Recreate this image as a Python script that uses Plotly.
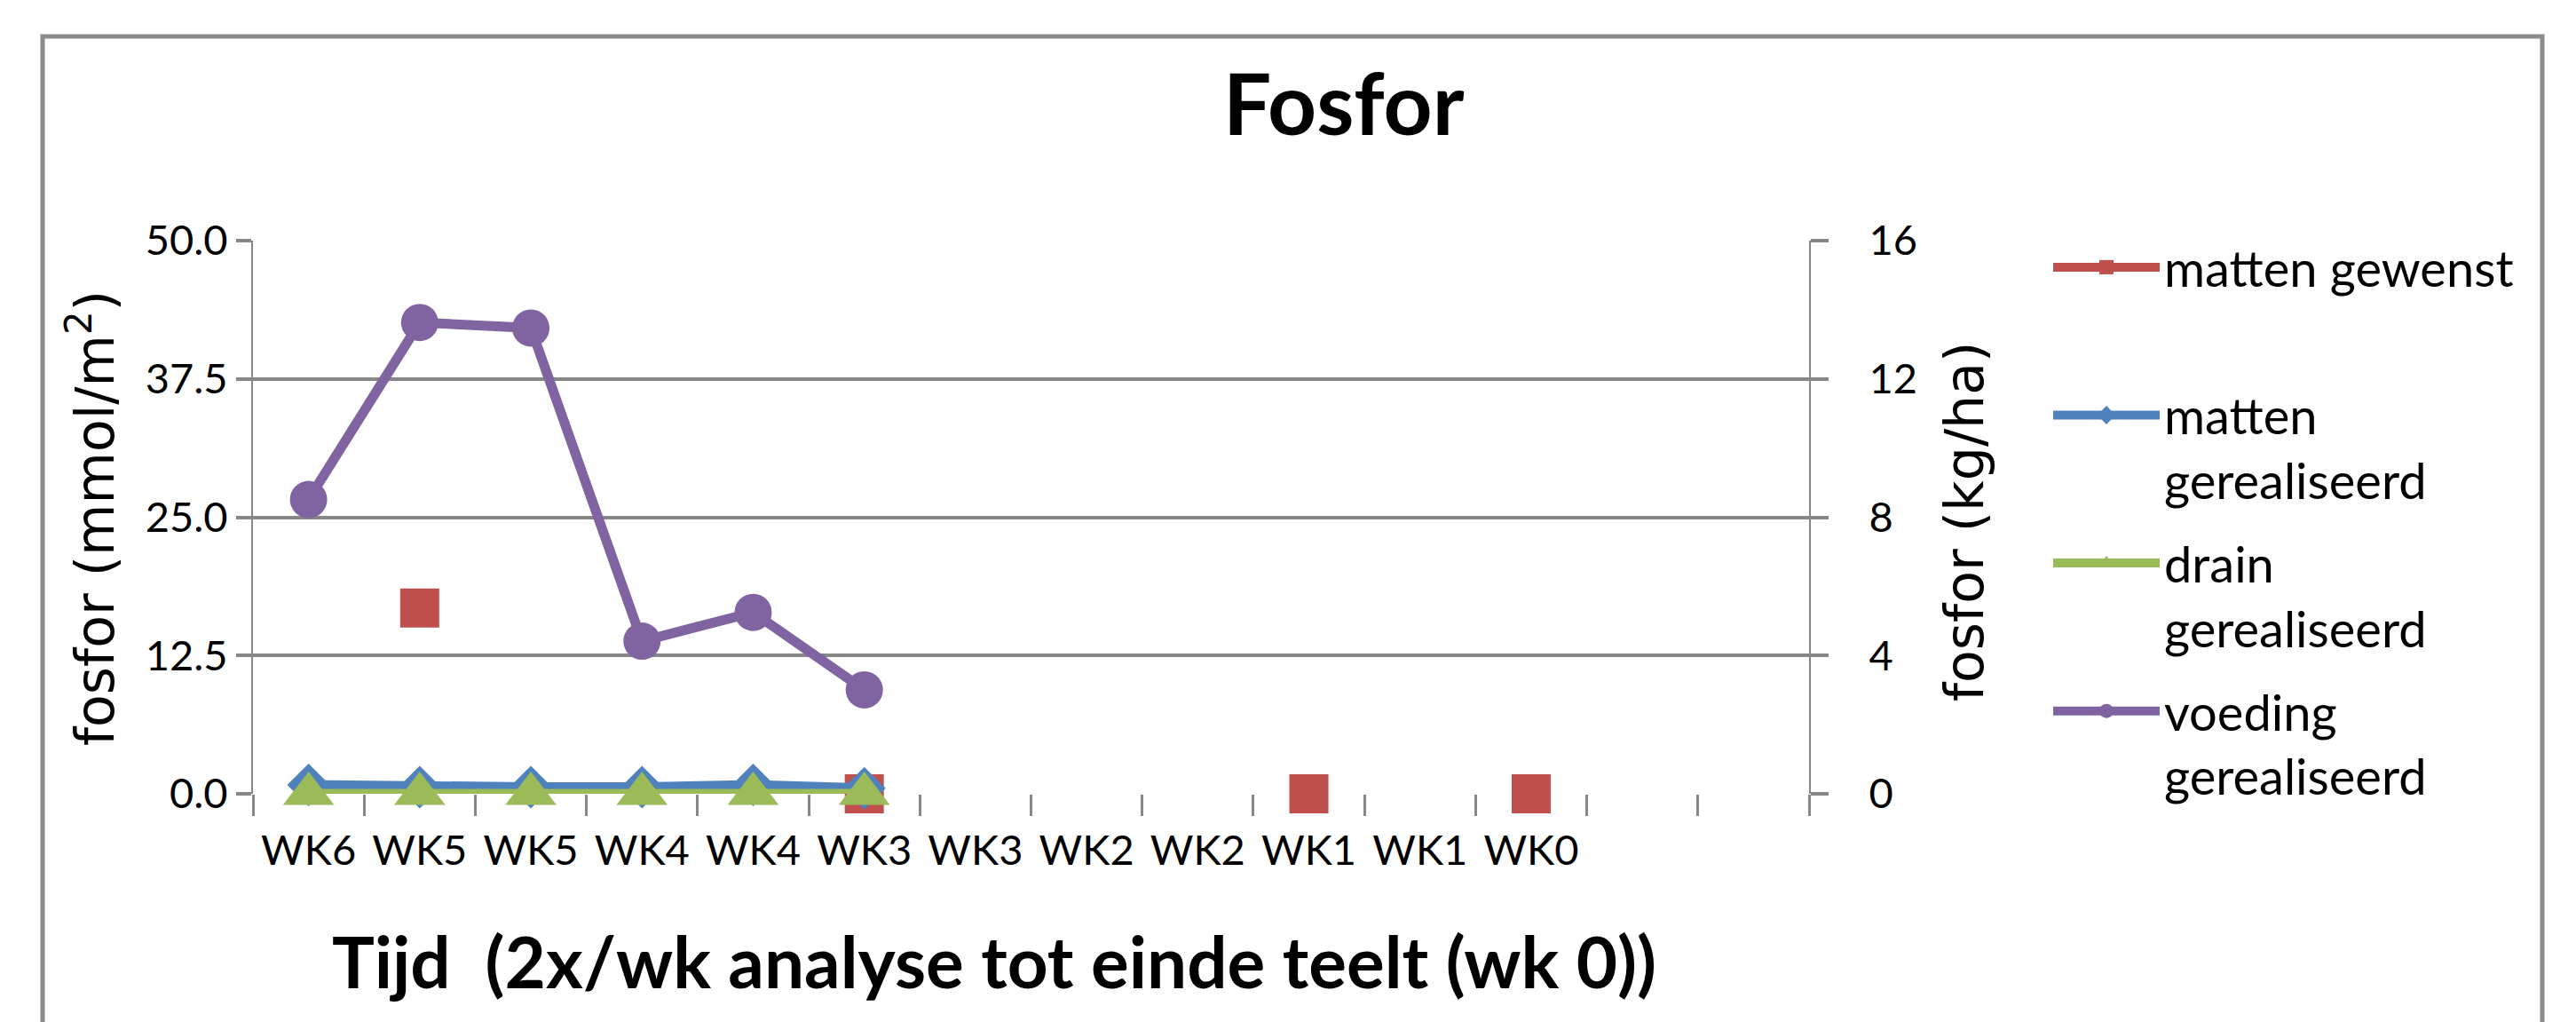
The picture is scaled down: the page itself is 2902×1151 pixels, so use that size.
import plotly.graph_objects as go

categories = ["WK6", "WK5", "WK5", "WK4", "WK4", "WK3", "WK3", "WK2", "WK2", "WK1", "WK1", "WK0", "", ""]
matten_gewenst = [None, 16.8, None, None, None, 0.0, None, None, None, 0.0, None, 0.0, None, None]
matten_gerealiseerd = [0.8, 0.6, 0.6, 0.6, 0.8, 0.5, None, None, None, None, None, None, None, None]
drain_gerealiseerd = [0.0, 0.0, 0.0, 0.0, 0.0, 0.0, None, None, None, None, None, None, None, None]
voeding_gerealiseerd = [26.6, 42.6, 42.1, 13.8, 16.4, 9.4, None, None, None, None, None, None, None, None]
left_ticks = [0.0, 12.5, 25.0, 37.5, 50.0]
right_ticks = [0, 4, 8, 12, 16]

x = list(range(len(categories)))
boundaries = [i - 0.5 for i in range(len(categories) + 1)]

RED, BLUE, GREEN, PURPLE = "#C0504D", "#4F81BD", "#9BBB59", "#8064A2"
GRID = "#878787"
FONT = "Lato"

W, H = 2902, 1151
ML, MR, MT, MB = 277, W - 2030, 263, H - 886
PW, PH = W - ML - MR, H - MT - MB


def px_x(p):
    return (p - ML) / PW


def px_y(p):
    return (H - MB - p) / PH


fig = go.Figure()
series = [
    ("matten gewenst<br>\u00a0", matten_gewenst, RED, "square", 44),
    ("matten<br>gerealiseerd", matten_gerealiseerd, BLUE, "diamond", 37),
    ("drain<br>gerealiseerd", drain_gerealiseerd, GREEN, "triangle-up", 50),
    ("voeding<br>gerealiseerd", voeding_gerealiseerd, PURPLE, "circle", 42),
]
for i, (name, vals, col, sym, size) in enumerate(series):
    fig.add_trace(go.Scatter(
        x=x, y=vals, name=name, mode="lines+markers", legendgroup=f"g{i}",
        line=dict(color=col, width=11), connectgaps=False, cliponaxis=False,
        marker=dict(symbol=sym, size=size, color=col, line=dict(width=0)),
    ))
fig.add_trace(go.Scatter(x=[x[0]], y=[None], yaxis="y2", showlegend=False, hoverinfo="skip"))

fig.update_layout(
    width=W, height=H, autosize=False,
    margin=dict(l=ML, r=MR, t=MT, b=MB, pad=0),
    paper_bgcolor="white", plot_bgcolor="white",
    font=dict(family=FONT, color="black"),
    showlegend=True,
    legend=dict(
        x=px_x(2300), y=px_y(250), xanchor="left", yanchor="top",
        font=dict(family=FONT, size=56, color="black"),
        valign="top", itemwidth=120, tracegroupgap=18, maxheight=1100,
        bgcolor="rgba(0,0,0,0)", borderwidth=0,
    ),
    xaxis=dict(
        range=[-0.5, len(categories) - 0.5], tickmode="array", tickvals=x, ticktext=categories,
        ticks="", showgrid=False, zeroline=False, showline=False,
        tickfont=dict(family=FONT, size=47, color="black"),
        ticklabelstandoff=32,
        minor=dict(tickmode="array", tickvals=boundaries, ticks="outside", ticklen=24,
                   tickcolor=GRID, tickwidth=2.5, showgrid=False),
    ),
    yaxis=dict(
        range=[0, 50], tickmode="array", tickvals=left_ticks, tickformat=".1f",
        showgrid=True, gridcolor=GRID, gridwidth=3.5, zeroline=False,
        showline=True, linecolor=GRID, linewidth=2,
        ticks="outside", ticklen=17, tickwidth=3.5, tickcolor=GRID,
        tickfont=dict(family=FONT, size=47, color="black"),
    ),
    yaxis2=dict(
        range=[0, 16], tickmode="array", tickvals=right_ticks, overlaying="y", side="right",
        showgrid=False, zeroline=False, showline=True, linecolor=GRID, linewidth=2,
        ticks="outside", ticklen=20, tickwidth=3.5, tickcolor=GRID,
        tickfont=dict(family=FONT, size=47, color="black"),
        ticklabelstandoff=36,
    ),
    shapes=[dict(type="rect", xref="paper", yref="paper",
                 x0=px_x(40), x1=px_x(2856), y0=px_y(1200), y1=px_y(33),
                 line=dict(color="#8A8A8A", width=5), fillcolor="rgba(0,0,0,0)", layer="below")],
    annotations=[
        dict(text="Fosfor", xref="paper", yref="paper", x=px_x(1506), y=px_y(106),
             xanchor="center", yanchor="middle", showarrow=False,
             font=dict(family=FONT, size=96, color="black", weight="bold")),
        dict(text="Tijd  (2x/wk analyse tot einde teelt (wk 0))", xref="paper", yref="paper",
             x=px_x(1112), y=px_y(1074), xanchor="center", yanchor="middle", showarrow=False,
             font=dict(family=FONT, size=80, color="black", weight="bold")),
        dict(text="fosfor (mmol/m<sup>2</sup>)", xref="paper", yref="paper",
             x=px_x(95), y=px_y(576), xanchor="center", yanchor="middle", showarrow=False,
             textangle=-90, font=dict(family="DejaVu Sans", size=60, color="black")),
        dict(text="fosfor (kg/ha)", xref="paper", yref="paper",
             x=px_x(2205), y=px_y(580), xanchor="center", yanchor="middle", showarrow=False,
             textangle=-90, font=dict(family="DejaVu Sans", size=60, color="black")),
    ],
)

fig.write_html("out.html")
